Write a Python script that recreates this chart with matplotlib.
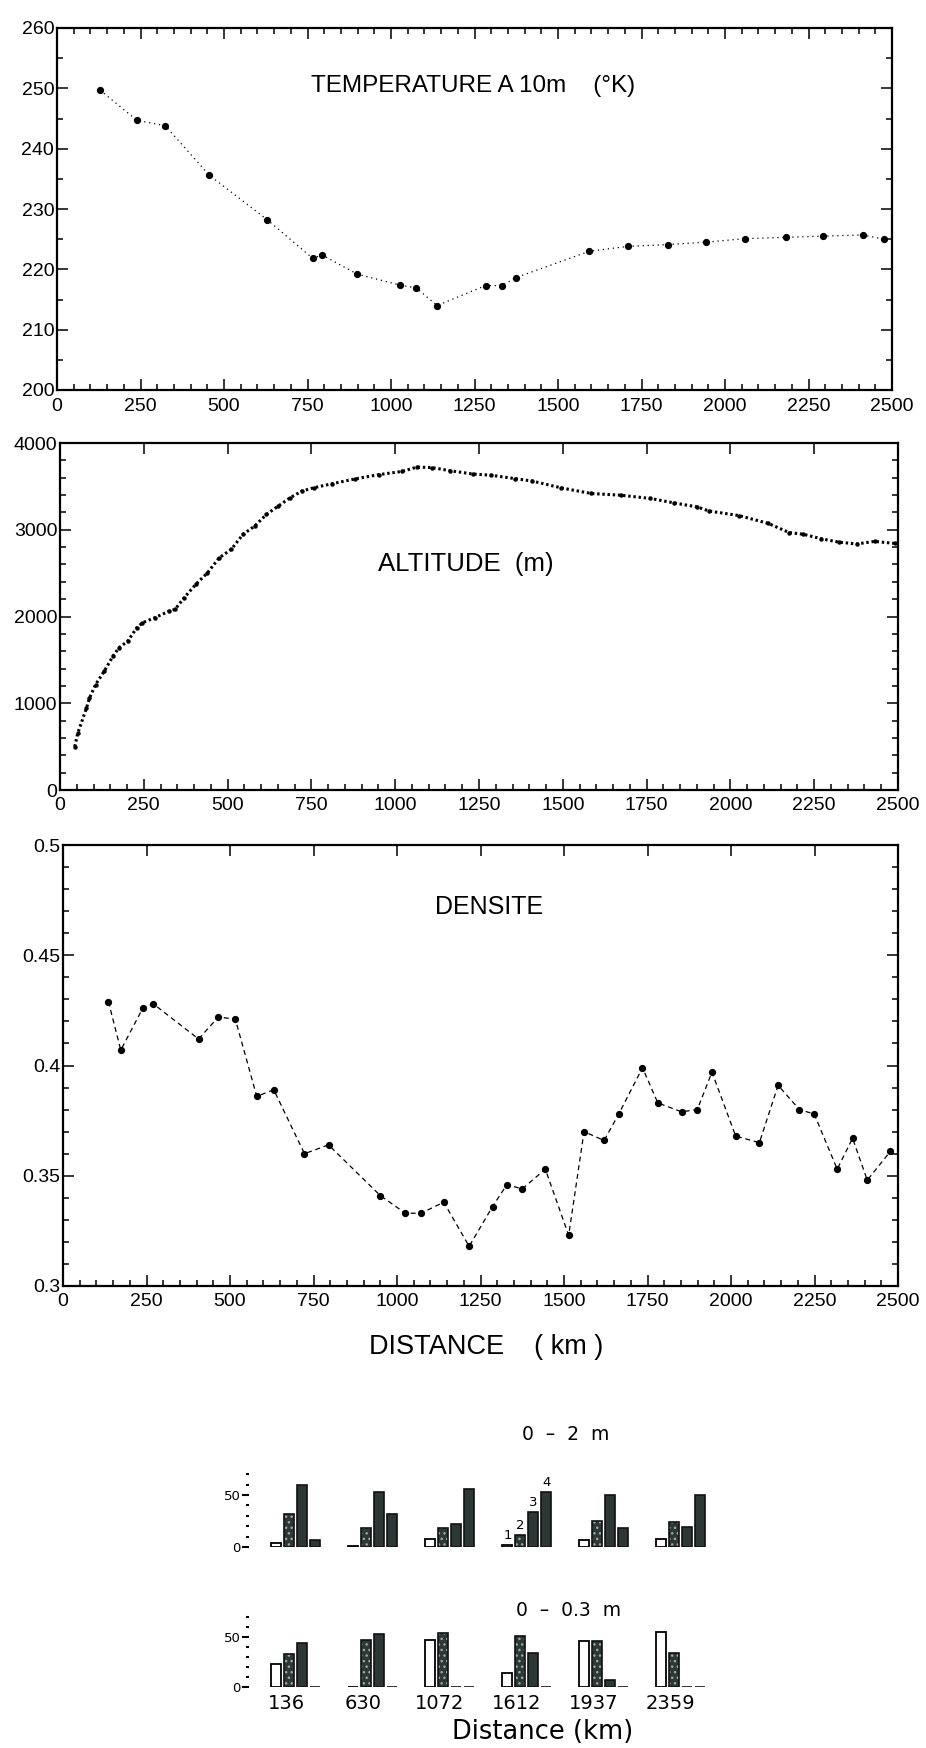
import matplotlib
matplotlib.use("Agg")
import matplotlib.pyplot as plt
from matplotlib.ticker import MultipleLocator, FuncFormatter, FixedLocator

# ---------------- data ----------------
temp_dist = [129, 239, 324, 456, 630, 766, 793, 899, 1026, 1076, 1138, 1283, 1332,
             1373, 1594, 1709, 1828, 1943, 2061, 2182, 2293, 2412, 2477]
temp_vals = [249.7, 244.7, 243.8, 235.6, 228.2, 221.8, 222.4, 219.2, 217.4, 216.9, 214.0,
             217.3, 217.3, 218.6, 223.0, 223.8, 224.1, 224.5, 225.1, 225.3, 225.5, 225.7, 225.0]

alt_dist = [44, 53, 79, 88, 106, 132, 158, 176, 202, 229, 246, 282, 326, 343, 370, 405,
            440, 475, 511, 546, 581, 616, 651, 687, 722, 757, 810, 880, 951, 1021, 1065,
            1109, 1162, 1232, 1285, 1356, 1408, 1496, 1585, 1673, 1761, 1831, 1901, 1937,
            2025, 2113, 2175, 2218, 2271, 2324, 2377, 2430, 2491]
alt_vals = [500, 655, 945, 1060, 1215, 1370, 1543, 1640, 1716, 1870, 1928, 1985, 2062,
            2081, 2215, 2370, 2504, 2677, 2774, 2947, 3043, 3177, 3273, 3370, 3446, 3484,
            3529, 3586, 3635, 3673, 3722, 3717, 3682, 3642, 3629, 3590, 3562, 3482, 3418,
            3398, 3361, 3310, 3263, 3215, 3164, 3073, 2968, 2948, 2896, 2857, 2836, 2866, 2842]

dens_dist = [136, 173, 239, 270, 406, 465, 516, 580, 631, 723, 795, 950, 1025, 1072, 1140,
             1216, 1286, 1329, 1375, 1444, 1514, 1560, 1620, 1664, 1735, 1781, 1852, 1899,
             1943, 2014, 2085, 2141, 2205, 2249, 2318, 2364, 2408, 2477]
dens_vals = [0.429, 0.407, 0.426, 0.428, 0.412, 0.422, 0.421, 0.386, 0.389, 0.360, 0.364,
             0.341, 0.333, 0.333, 0.338, 0.318, 0.336, 0.346, 0.344, 0.353, 0.323, 0.370,
             0.366, 0.378, 0.399, 0.383, 0.379, 0.380, 0.397, 0.368, 0.365, 0.391, 0.380,
             0.378, 0.353, 0.367, 0.348, 0.361]

x_ticks = [0, 250, 500, 750, 1000, 1250, 1500, 1750, 2000, 2250, 2500]

groups = ["136", "630", "1072", "1612", "1937", "2359"]
top_c1 = [4, 1, 8, 2, 7, 8]
top_c2 = [32, 18, 18, 12, 25, 24]
top_c3 = [60, 53, 22, 34, 50, 19]
top_c4 = [7, 32, 56, 53, 18, 50]
bot_c1 = [23.5, 0, 47, 14.5, 46, 55]
bot_c2 = [33, 47, 54, 51, 46, 34]
bot_c3 = [44, 53, 0, 34.5, 7, 0]
bot_c4 = [0, 0, 0, 0, 0, 0]
class_labels = ["1", "2", "3", "4"]

# ---------------- figure ----------------
W, H = 926, 1748
fig = plt.figure(figsize=(W / 100, H / 100), dpi=100)
fig.patch.set_facecolor("white")

MAIN_FONT = ["Liberation Sans", "DejaVu Sans"]
BOT_FONT = ["DejaVu Sans"]


def ax_px(left, top, right, bottom):
    return fig.add_axes([left / W, 1 - bottom / H, (right - left) / W, (bottom - top) / H])


def style_main(ax, ylim, ymaj, ymin, top_minor=True, xpad=5):
    ax.set_xlim(0, 2500)
    ax.set_ylim(*ylim)
    ax.xaxis.set_major_locator(FixedLocator(x_ticks))
    ax.xaxis.set_minor_locator(MultipleLocator(50))
    ax.yaxis.set_major_locator(MultipleLocator(ymaj))
    ax.yaxis.set_minor_locator(MultipleLocator(ymin))
    ax.tick_params(which="both", direction="in", top=True, right=True, width=1.1)
    ax.tick_params(which="major", length=8)
    ax.tick_params(which="minor", length=4)
    ax.tick_params(axis="y", pad=2)
    ax.tick_params(axis="x", pad=xpad)
    if not top_minor:
        ax.tick_params(axis="x", which="minor", top=False)
    for lab in ax.get_xticklabels() + ax.get_yticklabels():
        lab.set_family(MAIN_FONT)
        lab.set_fontsize(14)
    for s in ax.spines.values():
        s.set_linewidth(1.6)
    ax.yaxis.set_major_formatter(FuncFormatter(lambda v, p: f"{v:g}"))


# Temperature panel
ax1 = ax_px(57, 28, 892, 390)
ax1.plot(temp_dist, temp_vals, color="black", lw=0.9, linestyle=(0, (1, 3)))
ax1.plot(temp_dist, temp_vals, "o", color="black", ms=4.2, lw=0)
style_main(ax1, (200, 260), 10, 5, xpad=6)
ax1.text(0.304, 0.84, "TEMPERATURE A 10m    (°K)", transform=ax1.transAxes,
         ha="left", va="center", fontsize=17.5, family=MAIN_FONT)

# Altitude panel
ax2 = ax_px(60, 443, 898, 790)
ax2.plot(alt_dist, alt_vals, color="black", lw=2.2, linestyle=(0, (0.8, 0.9)))
ax2.plot(alt_dist, alt_vals, "o", color="black", ms=2.2, lw=0)
style_main(ax2, (0, 4000), 1000, 200, top_minor=False)
ax2.text(0.380, 0.651, "ALTITUDE  (m)", transform=ax2.transAxes,
         ha="left", va="center", fontsize=18.5, family=MAIN_FONT)

# Density panel
ax3 = ax_px(63, 845, 898, 1286)
ax3.plot(dens_dist, dens_vals, color="black", lw=0.9, linestyle=(0, (4, 3)))
ax3.plot(dens_dist, dens_vals, "o", color="black", ms=4.2, lw=0)
style_main(ax3, (0.3, 0.5), 0.05, 0.01, top_minor=False)
ax3.text(0.445, 0.859, "DENSITE", transform=ax3.transAxes,
         ha="left", va="center", fontsize=18, family=MAIN_FONT)

fig.text(486 / W, 1 - 1347 / H, "DISTANCE    ( km )", ha="center", va="center",
         fontsize=19.5, family=MAIN_FONT)

# ---------------- bar charts ----------------
DARK = "#2c3835"
pitch = 0.169
bw = 0.13


def bar_panel(top, bottom, c1, c2, c3, c4, show_x, numbers=False):
    ax = ax_px(249, top, 720, bottom)
    xs = list(range(len(groups)))
    for k, vals in enumerate([c1, c2, c3, c4]):
        pos = [x + (k - 1.5) * pitch for x in xs]
        if k == 0:
            ax.bar(pos, vals, width=bw, facecolor="white", edgecolor="black", lw=1.3)
        elif k == 1:
            ax.bar(pos, vals, width=bw, facecolor=DARK, edgecolor="#9aa8a2", hatch="...",
                   lw=0)
            ax.bar(pos, vals, width=bw, fill=False, edgecolor="#111", lw=1.2)
        else:
            ax.bar(pos, vals, width=bw, facecolor=DARK, edgecolor="#111", lw=1.2)
        if numbers:
            gi = 3
            ax.annotate(class_labels[k], (xs[gi] + (k - 1.5) * pitch, vals[gi]),
                        xytext=(0, 2), textcoords="offset points", ha="center",
                        va="bottom", fontsize=9.5, family=BOT_FONT)
    ax.set_xlim(-0.61, 5.51)
    ax.set_ylim(0, 75)
    for s in ax.spines.values():
        s.set_visible(False)
    ax.yaxis.set_major_locator(FixedLocator([0, 50]))
    ax.yaxis.set_minor_locator(FixedLocator([10, 20, 30, 40, 60, 70]))
    ax.tick_params(axis="y", which="major", length=5, width=1.5, pad=1, labelsize=9.5)
    ax.tick_params(axis="y", which="minor", length=2.5, width=1.5)
    for lab in ax.get_yticklabels():
        lab.set_family(BOT_FONT)
    if show_x:
        ax.set_xticks([x - 0.13 for x in xs])
        ax.set_xticklabels(groups, fontsize=14, family=BOT_FONT)
        ax.tick_params(axis="x", length=0, pad=5)
    else:
        ax.set_xticks([])
    ax.patch.set_alpha(0)
    return ax


# top row: 0 at y=1547 px, ~1.04 px per unit
bar_panel(1547 - 78, 1547, top_c1, top_c2, top_c3, top_c4, False, numbers=True)
# bottom row: 0 at y=1687 px, ~1.0 px per unit
bar_panel(1687 - 75, 1687, bot_c1, bot_c2, bot_c3, bot_c4, True)

fig.text(566 / W, 1 - 1435 / H, "0  –  2  m", ha="center", va="center", fontsize=13.5,
         family=BOT_FONT)
fig.text(569 / W, 1 - 1610 / H, "0  –  0.3  m", ha="center", va="center", fontsize=13.5,
         family=BOT_FONT)
fig.text(543 / W, 1 - 1732 / H, "Distance (km)", ha="center", va="center", fontsize=18.5,
         family=BOT_FONT)

fig.savefig("out.png", dpi=100, facecolor="white")
